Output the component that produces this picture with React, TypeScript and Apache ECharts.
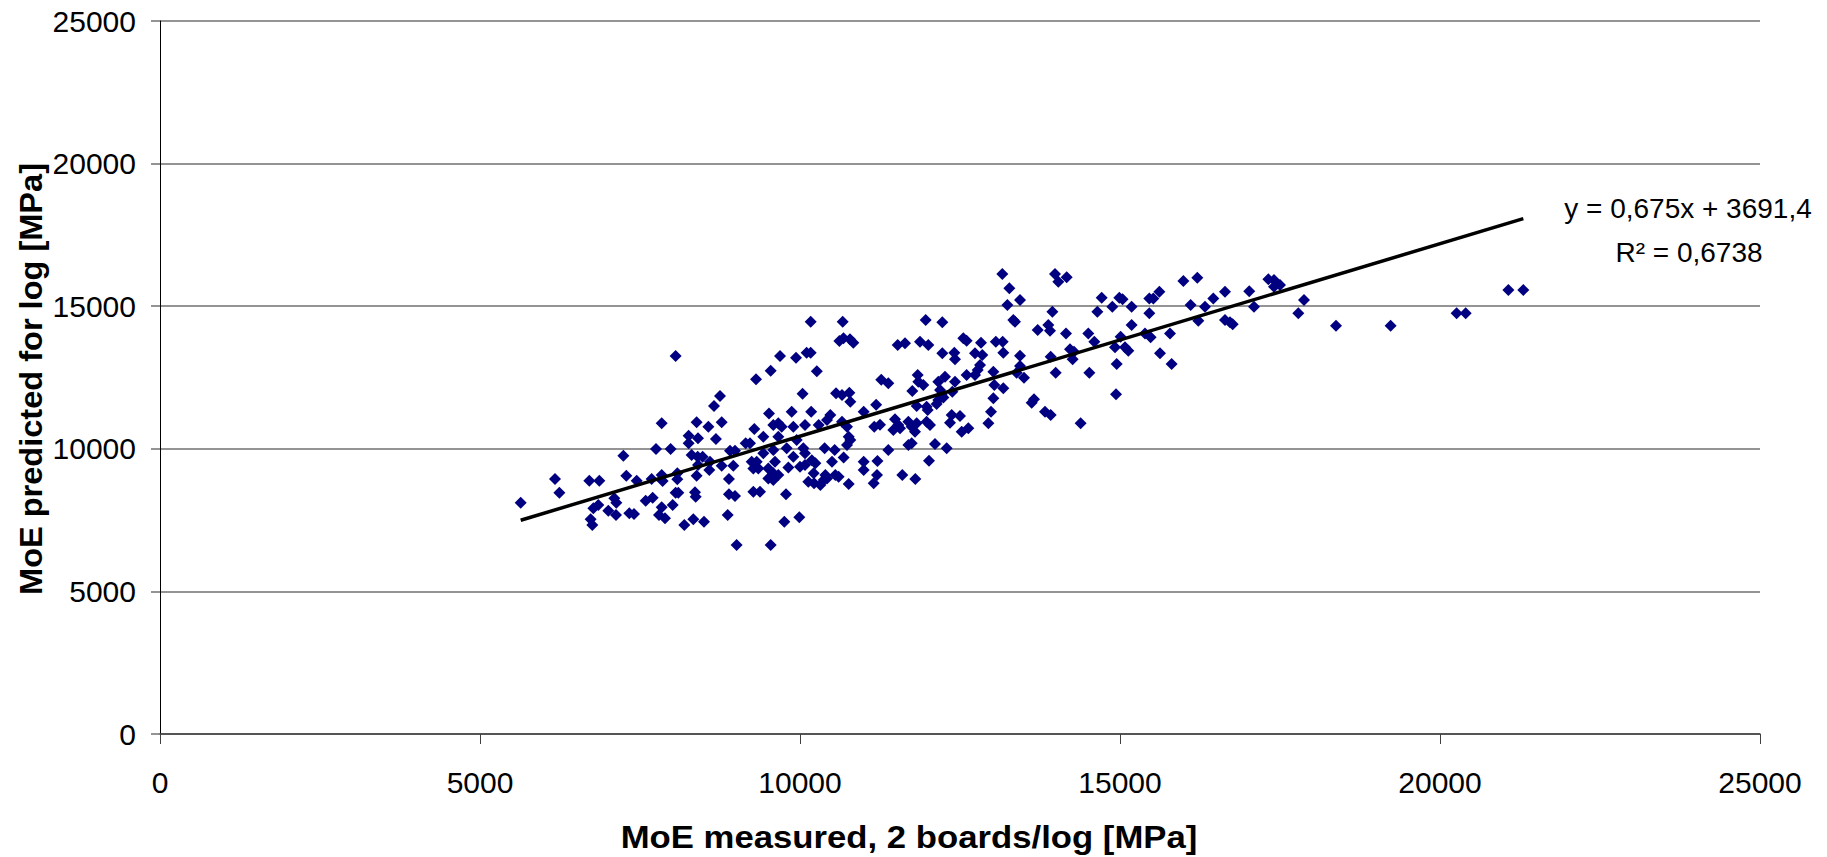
import React, { useEffect, useRef } from "react";
import * as echarts from "echarts";

// MoE measured (2 boards/log) vs MoE predicted for log, both in MPa
const samples: [number, number][] = [
  [5636, 8110], [6172, 8940], [6240, 8460], [6708, 8880], [6864, 8880], [6729, 7527], [6755, 7327], [6771, 7912],
  [6849, 8029], [7005, 7830], [7099, 8263], [7130, 8110], [7125, 7678], [7240, 9757], [7286, 9056], [7448, 8880],
  [7333, 7737], [7406, 7713], [7589, 8180], [7698, 8285], [7682, 8940], [7750, 9992], [7839, 9080], [7854, 8870],
  [7839, 10893], [7797, 7678], [7891, 7562], [7839, 7948], [7979, 9992], [8011, 8029], [8057, 13253], [8083, 9140],
  [8083, 8930], [8057, 8460], [8099, 8460], [8192, 7327], [8333, 7527], [8500, 7443], [8260, 10458], [8260, 10192],
  [8307, 9782], [8385, 10928], [8406, 10367], [8401, 9722], [8479, 9722], [8406, 9431], [8385, 9056], [8359, 8474],
  [8370, 8320], [8568, 10775], [8656, 11500], [8750, 11850], [8776, 10928], [8687, 10343], [8594, 9547], [8583, 9256],
  [8776, 9407], [8906, 9933], [8984, 9933], [8958, 9407], [8890, 8940], [8890, 8404], [8984, 8344], [8870, 7678],
  [9010, 6626], [9151, 10192],
  [9313, 12436], [10040, 11930], [9516, 11241], [9870, 11300], [10175, 11300], [9286, 10693], [9583, 10834], [9661, 10893],
  [9714, 10775], [9896, 10775], [10078, 10834], [9427, 10424], [9661, 10424], [9219, 10192], [9948, 10308], [9792, 10016],
  [9583, 9957], [9427, 9840], [10052, 10016], [10078, 9840], [9896, 9722], [9245, 9547], [9323, 9547], [9609, 9547],
  [10185, 9600], [10240, 9489], [9271, 9313], [9349, 9313], [9505, 9313], [9818, 9348], [10000, 9372], [10078, 9431],
  [9583, 9140], [9661, 9080], [9505, 8963], [9583, 8905], [10130, 8846], [10220, 8788], [10318, 8730], [9271, 8498],
  [9375, 8498], [9781, 8404], [9755, 7443], [9989, 7596], [9542, 6626], [9688, 13253], [9938, 13195], [10104, 13370],
  [10167, 13370], [9542, 12738], [10167, 14456], [10214, 9140],
  [10263, 12720], [11270, 12420], [10563, 11944], [10656, 11885], [10771, 11967], [10786, 11652], [10474, 11184], [10422, 11009],
  [10292, 10834], [10656, 10950], [10734, 10775], [11190, 11545], [10995, 11300], [11160, 10775], [11250, 10840], [10761, 10424],
  [10786, 10308], [10734, 10133], [10385, 10016], [10542, 9957], [10682, 9699], [10500, 9547], [10995, 9547], [10995, 9256],
  [11210, 9570], [10396, 9080], [10422, 8963], [10552, 9080], [10604, 9021], [10370, 8905], [10761, 8765], [11203, 9080],
  [11151, 8788], [10667, 14456], [10615, 13779], [10680, 13880], [10781, 13838], [10833, 13720],
  [11964, 14515], [12224, 14433], [11526, 13638], [11641, 13697], [11875, 13755], [12005, 13638], [12552, 13873], [12604, 13790],
  [12828, 13720], [13060, 13755], [12224, 13347], [12411, 13370], [12422, 13137], [12734, 13347], [12849, 13288], [12813, 12937],
  [12776, 12762], [12734, 12586], [13021, 12703], [12604, 12586], [13036, 12236], [13177, 12119], [13021, 11769], [12984, 11300],
  [12943, 10893], [11380, 12296], [11839, 12586], [11849, 12352], [11927, 12236], [11755, 12026], [12161, 12352], [12266, 12527],
  [12422, 12352], [12188, 12061], [12214, 11885], [12161, 11710], [12240, 11800], [12380, 12003], [11823, 11500], [11979, 11476],
  [11995, 11359], [12135, 11570], [11484, 11032], [11536, 10834], [11693, 10950], [11745, 10775], [11823, 10893], [11797, 10600],
  [11458, 10659], [11563, 10717], [11979, 10950], [12031, 10834], [12370, 11184], [12500, 11149], [12344, 10915], [12526, 10600],
  [12630, 10717], [11693, 10133], [11745, 10192], [12109, 10168], [12292, 10016], [11380, 9957], [12016, 9582], [11599, 9080],
  [11802, 8940],
  [13161, 16128], [13271, 15626], [13240, 15041], [13438, 15216], [13333, 14515], [13359, 14456], [13167, 13755], [13177, 13370],
  [13438, 13265], [13438, 12902], [13385, 12668], [13500, 12492], [13620, 11616], [13656, 11734], [13828, 11300], [13917, 11184],
  [14385, 10893], [13984, 16128], [14036, 15859], [14167, 16011], [13943, 14807], [13714, 14164], [13880, 14340], [13906, 14140],
  [14156, 14047], [13917, 13230], [13995, 12668], [14219, 13487], [14260, 13137], [14281, 13400], [14505, 14047], [14599, 13755],
  [14521, 12668], [14646, 14807], [14714, 15298], [14880, 14982], [14989, 15298], [15040, 15240], [15182, 14982], [15182, 14340],
  [15010, 13930], [14922, 13557], [15078, 13557], [15130, 13440], [14948, 12972], [14938, 11909], [15458, 15274], [15521, 15274],
  [15615, 15508], [15458, 14749], [15391, 14047], [15479, 13907], [15625, 13347], [15781, 14047], [15807, 12972], [15990, 15883],
  [16208, 15999], [16104, 15041], [16328, 14982], [16458, 15274], [16224, 14491], [16641, 15508], [16641, 14515], [16719, 14433],
  [16761, 14363], [17020, 15520],
  [17094, 14982], [17318, 15942], [17406, 15917], [17500, 15742], [17406, 15683], [17875, 15216], [17786, 14749], [18375, 14316],
  [19229, 14316], [20260, 14749], [20401, 14749], [21068, 15567], [21302, 15567],
];

// Linear trend line (least squares, as printed on the chart)
const TREND_SLOPE = 0.675;
const TREND_INTERCEPT = 3691.4;
const equationLabel = "y = 0,675x + 3691,4";
const r2Label = "R² = 0,6738";

const axisTicks = [0, 5000, 10000, 15000, 20000, 25000];
const xAxisTitle = "MoE measured, 2 boards/log [MPa]";
const yAxisTitle = "MoE predicted for log [MPa]";

const FONT = "'Liberation Sans', Arial, Helvetica, sans-serif";

export default function App() {
  const ref = useRef<HTMLDivElement>(null);

  useEffect(() => {
    document.body.style.margin = "0";
    document.body.style.overflow = "hidden";
    if (!ref.current) return;
    const chart = echarts.init(ref.current, undefined, { renderer: "svg" });

    const xs = samples.map((p) => p[0]);
    const xMin = Math.min(...xs);
    const xMax = Math.max(...xs);
    const trend = [xMin, xMax].map((x) => [x, TREND_SLOPE * x + TREND_INTERCEPT]);

    chart.setOption({
      animation: false,
      backgroundColor: "#ffffff",
      textStyle: { fontFamily: FONT },
      grid: { left: 160, right: 67, top: 21, bottom: 123, containLabel: false },
      xAxis: {
        type: "value",
        min: axisTicks[0],
        max: axisTicks[axisTicks.length - 1],
        interval: 5000,
        axisLine: { show: true, onZero: false, lineStyle: { color: "#404040", width: 1.5 } },
        axisTick: { show: true, inside: false, length: 10, lineStyle: { color: "#404040", width: 1 } },
        axisLabel: { color: "#000", fontSize: 30, fontFamily: FONT, margin: 33, formatter: (v: number) => String(v) },
        splitLine: { show: false },
      },
      yAxis: {
        type: "value",
        min: axisTicks[0],
        max: axisTicks[axisTicks.length - 1],
        interval: 5000,
        axisLine: { show: true, onZero: false, lineStyle: { color: "#000", width: 1 } },
        axisTick: { show: true, inside: false, length: 9, lineStyle: { color: "#707070", width: 1.5 } },
        axisLabel: { color: "#000", fontSize: 30, fontFamily: FONT, margin: 24, formatter: (v: number) => String(v) },
        splitLine: { show: true, lineStyle: { color: "#707070", width: 1.5 } },
      },
      graphic: [
        {
          type: "text",
          x: 909,
          y: 837,
          scaleX: 1.12,
          style: {
            text: xAxisTitle,
            fontSize: 31,
            fontWeight: "bold",
            fontFamily: FONT,
            fill: "#000",
            align: "center",
            verticalAlign: "middle",
          },
        },
        {
          type: "text",
          x: 31,
          y: 379,
          rotation: Math.PI / 2,
          scaleX: 1.05,
          style: {
            text: yAxisTitle,
            fontSize: 31,
            fontWeight: "bold",
            fontFamily: FONT,
            fill: "#000",
            align: "center",
            verticalAlign: "middle",
          },
        },
        {
          type: "text",
          x: 1688,
          y: 208,
          style: {
            text: equationLabel,
            fontSize: 28,
            fontFamily: FONT,
            fill: "#000",
            align: "center",
            verticalAlign: "middle",
          },
        },
        {
          type: "text",
          x: 1689,
          y: 252,
          style: {
            text: r2Label,
            fontSize: 28,
            fontFamily: FONT,
            fill: "#000",
            align: "center",
            verticalAlign: "middle",
          },
        },
      ],
      series: [
        {
          type: "scatter",
          data: samples,
          symbol: "diamond",
          symbolSize: 12,
          itemStyle: { color: "#000080", opacity: 1 },
          z: 2,
        },
        {
          type: "line",
          data: trend,
          showSymbol: false,
          symbol: "none",
          lineStyle: { color: "#000", width: 3.5 },
          z: 3,
        },
      ],
    });

    return () => chart.dispose();
  }, []);

  return <div ref={ref} style={{ width: 1827, height: 857 }} />;
}
